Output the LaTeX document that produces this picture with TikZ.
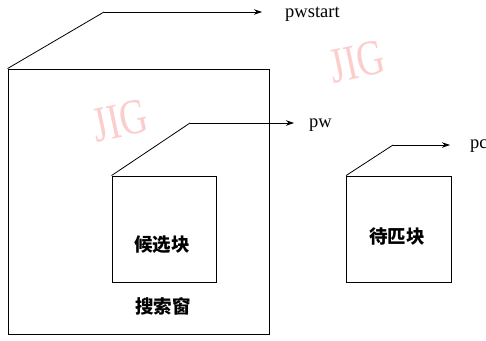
\documentclass[tikz,border=0pt]{standalone}
\usepackage{fontspec}
\setmainfont{Liberation Serif}
\newfontfamily\cjk{Noto Sans CJK SC}
\usetikzlibrary{arrows.meta}
\definecolor{wm}{RGB}{252,205,205}
\tikzset{
  box/.style={draw=black, line width=0.9pt},
  lead/.style={draw=black, line width=0.8pt},
  ptr/.style={draw=black, line width=0.8pt, -{Stealth[length=8pt,width=5.5pt]}},
  lbl/.style={font=\fontsize{18.5}{20}\selectfont, anchor=west, inner sep=0pt},
  cn/.style={font=\cjk\bfseries\fontsize{18.5}{20}\selectfont, inner sep=0pt},
  wmark/.style={text=wm, font=\fontsize{50}{52}\selectfont, inner sep=0pt, rotate=12}
}
\newcommand{\wmtext}{\scalebox{0.76}[1]{JIG}}
\begin{document}
\begin{tikzpicture}[x=1pt,y=-1pt]
\useasboundingbox (0,0) rectangle (486,340);
% watermarks
\node[wmark] (wm1) at (120,121) {\wmtext};
\node[wmark] (wm2) at (357,62) {\wmtext};
% search window
\node[box, minimum width=261pt, minimum height=265pt, inner sep=0pt] (win) at (138.5,201.5) {};
\coordinate (k1) at (104,12);
\coordinate (e1) at (262,12);
\node[lbl] (pws) at (285,14) {pwstart};
\draw[lead] (win.north west) -- (k1);
\draw[ptr] (k1) -- (e1);
% candidate block
\node[box, minimum width=104pt, minimum height=106pt, inner sep=0pt] (cand) at (164,229) {};
\coordinate (k2) at (190,123);
\coordinate (e2) at (294,123);
\node[lbl] (pw) at (309,125) {pw};
\draw[lead] (cand.north west) -- (k2);
\draw[ptr] (k2) -- (e2);
\node[cn] (candt) at (162,245) {候选块};
\node[cn] (wint) at (163,306) {搜索窗};
% block to match
\node[box, minimum width=105pt, minimum height=106pt, inner sep=0pt] (blk) at (399,229) {};
\coordinate (k3) at (393,145);
\coordinate (e3) at (450,145);
\node[lbl] (pc) at (470,146) {pc};
\draw[lead] (blk.north west) -- (k3);
\draw[ptr] (k3) -- (e3);
\node[cn] (blkt) at (397,237) {待匹块};
\end{tikzpicture}
\end{document}
